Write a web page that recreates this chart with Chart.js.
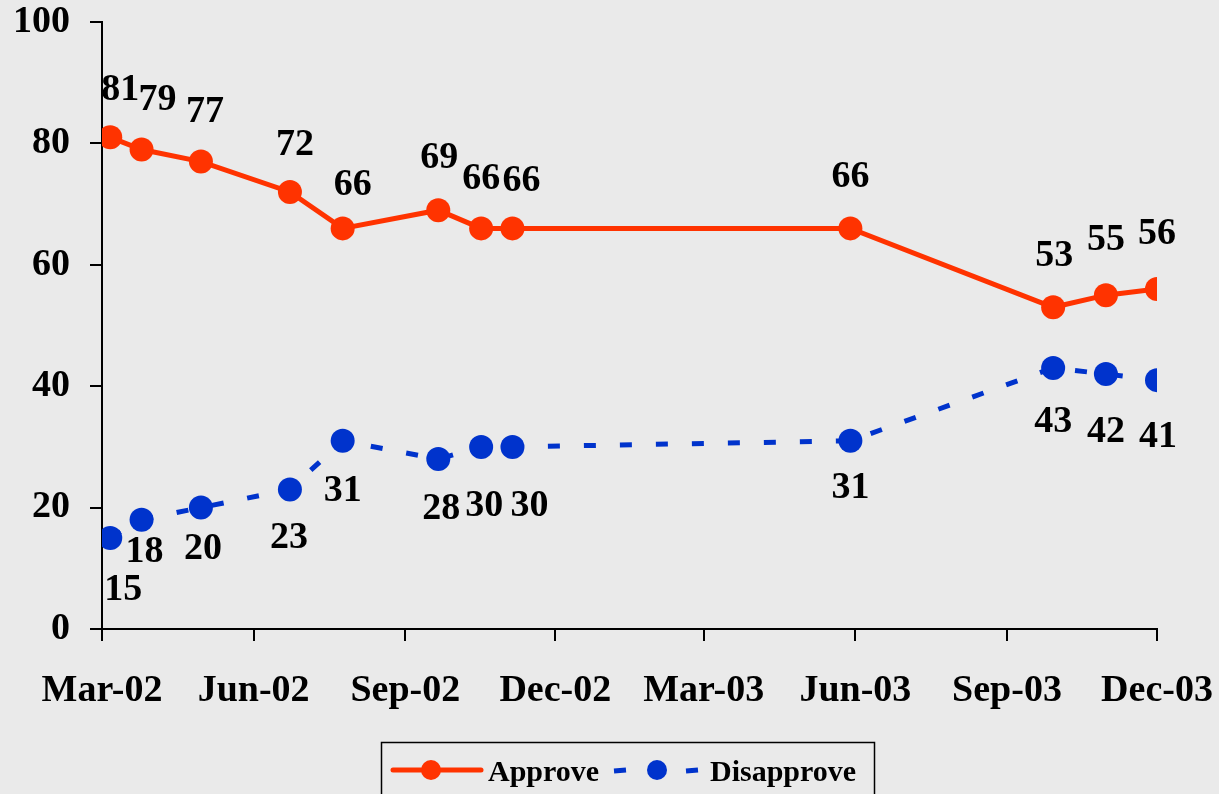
<!DOCTYPE html>
<html>
<head>
<meta charset="utf-8">
<title>Approve / Disapprove</title>
<script src="https://cdn.jsdelivr.net/npm/chart.js@4.4.1/dist/chart.umd.min.js"></script>
<style>
  html, body { margin: 0; padding: 0; background: #eaeaea; }
  #chart { display: block; }
</style>
</head>
<body>
<canvas id="chart" width="1219" height="794"></canvas>
<script>
// poll dates
const pollDates = ['2002-03-06', '2002-03-25', '2002-04-30', '2002-06-23', '2002-07-25', '2002-09-21',
                   '2002-10-17', '2002-11-05', '2003-05-29', '2003-09-29', '2003-10-31', '2003-12-01'];
const approve    = [81, 79, 77, 72, 66, 69, 66, 66, 66, 53, 55, 56];
const disapprove = [15, 18, 20, 23, 31, 28, 30, 30, 31, 43, 42, 41];

const tickDates  = ['2002-03-01', '2002-06-01', '2002-09-01', '2002-12-01',
                    '2003-03-01', '2003-06-01', '2003-09-01', '2003-12-01'];
const tickLabels = ['Mar-02', 'Jun-02', 'Sep-02', 'Dec-02', 'Mar-03', 'Jun-03', 'Sep-03', 'Dec-03'];
const yTicks = [0, 20, 40, 60, 80, 100];

const RED = '#ff3300';
const BLUE = '#0033cc';
const FONT = '"Liberation Serif", "Times New Roman", serif';

// days since Mar 1 2002 (no date adapter available, so linear axis)
function dayNum(s) {
    const p = s.split('-').map(Number);
    return (Date.UTC(p[0], p[1] - 1, p[2]) - Date.UTC(2002, 2, 1)) / 86400000;
}
const tickDays = tickDates.map(dayNum);

function toPoints(values) {
    return values.map((v, i) => ({ x: dayNum(pollDates[i]), y: v }));
}

// numbers above the approve points, below the disapprove points
// small per-label nudges so crowded labels don't sit on top of each other
const valueLabels = {
    id: 'valueLabels',
    afterDatasetsDraw(chart, args, opts) {
        const ctx = chart.ctx;
        ctx.save();
        ctx.font = 'bold 38px ' + FONT;
        ctx.fillStyle = '#000';
        ctx.textAlign = 'center';
        ctx.textBaseline = 'middle';
        chart.data.datasets.forEach((ds, di) => {
            const meta = chart.getDatasetMeta(di);
            const off = di === 0 ? -49 : 50;
            const nx = (opts.nudgeX && opts.nudgeX[di]) || [];
            const ny = (opts.nudgeY && opts.nudgeY[di]) || [];
            meta.data.forEach((pt, i) => {
                ctx.fillText(String(ds.data[i].y), pt.x + (nx[i] || 0), pt.y + off + (ny[i] || 0));
            });
        });
        ctx.restore();
    }
};

// boxed legend at the bottom, like the original
const boxLegend = {
    id: 'boxLegend',
    afterDraw(chart) {
        const ctx = chart.ctx;
        const ds = chart.data.datasets;
        const cy = 770;
        ctx.save();
        ctx.strokeStyle = '#000';
        ctx.lineWidth = 1.5;
        ctx.strokeRect(381.5, 742.5, 493, 70);

        ctx.lineCap = 'round';
        ctx.strokeStyle = ds[0].borderColor;
        ctx.lineWidth = 5;
        ctx.beginPath();
        ctx.moveTo(393, cy);
        ctx.lineTo(481, cy);
        ctx.stroke();
        ctx.fillStyle = ds[0].pointBackgroundColor;
        ctx.beginPath();
        ctx.arc(431, cy, 10, 0, Math.PI * 2);
        ctx.fill();

        ctx.lineCap = 'butt';
        ctx.strokeStyle = ds[1].borderColor;
        ctx.beginPath();
        ctx.moveTo(614, cy + 1);
        ctx.lineTo(626, cy);
        ctx.moveTo(686, cy + 1);
        ctx.lineTo(698, cy);
        ctx.stroke();
        ctx.fillStyle = ds[1].pointBackgroundColor;
        ctx.beginPath();
        ctx.arc(657, cy, 10, 0, Math.PI * 2);
        ctx.fill();

        ctx.fillStyle = '#000';
        ctx.font = 'bold 30px ' + FONT;
        ctx.textBaseline = 'alphabetic';
        ctx.textAlign = 'left';
        ctx.fillText(ds[0].label, 488, 781);
        ctx.fillText(ds[1].label, 710, 781);
        ctx.restore();
    }
};

new Chart(document.getElementById('chart'), {
    type: 'line',
    data: {
        datasets: [{
            label: 'Approve',
            data: toPoints(approve),
            borderColor: RED,
            backgroundColor: RED,
            pointBackgroundColor: RED,
            borderWidth: 5,
            pointRadius: 12,
            pointBorderWidth: 0,
            tension: 0
        }, {
            label: 'Disapprove',
            data: toPoints(disapprove),
            borderColor: BLUE,
            backgroundColor: BLUE,
            pointBackgroundColor: BLUE,
            borderWidth: 5,
            borderDash: [12, 24],
            pointRadius: 12,
            pointBorderWidth: 0,
            tension: 0
        }]
    },
    options: {
        responsive: false,
        animation: false,
        events: [],
        layout: { padding: { top: 22, right: 62, bottom: 0, left: 0 } },
        plugins: {
            legend: { display: false },
            tooltip: { enabled: false },
            valueLabels: {
                nudgeX: [[10, 16, 4, 5, 10, 1, 0, 9, 0, 1, 0, 0],
                         [13, 3, 2, -1, 0, 3, 3, 17, 0, 0, 0, 1]],
                nudgeY: [[2, 0, 0, 2, 6, -3, 0, 2, -2, -2, -6, -6],
                         [2, -18, -8, -1, 0, 0, 9, 9, -3, 4, 8, 7]]
            }
        },
        scales: {
            x: {
                type: 'linear',
                min: tickDays[0],
                max: tickDays[tickDays.length - 1],
                afterBuildTicks(scale) {
                    scale.ticks = tickDays.map(v => ({ value: v }));
                },
                afterFit(scale) {
                    scale.height = 165;
                    scale.paddingLeft = 0;
                    scale.paddingRight = 0;
                },
                border: { display: true, color: '#000', width: 2 },
                grid: { drawOnChartArea: false, drawTicks: true, tickLength: 12, color: '#000', lineWidth: 2 },
                ticks: {
                    autoSkip: false,
                    maxRotation: 0,
                    padding: 27,
                    color: '#000',
                    font: { family: FONT, size: 38, weight: 'bold' },
                    callback: (v, i) => tickLabels[i]
                }
            },
            y: {
                min: 0,
                max: 100,
                afterBuildTicks(scale) {
                    scale.ticks = yTicks.map(v => ({ value: v }));
                },
                afterFit(scale) {
                    scale.width = 102;
                    scale.paddingTop = 0;
                    scale.paddingBottom = 0;
                },
                border: { display: true, color: '#000', width: 2 },
                grid: { drawOnChartArea: false, drawTicks: true, tickLength: 12, color: '#000', lineWidth: 2 },
                ticks: {
                    padding: 20,
                    color: '#000',
                    font: { family: FONT, size: 38, weight: 'bold' }
                }
            }
        }
    },
    plugins: [valueLabels, boxLegend]
});
</script>
</body>
</html>
